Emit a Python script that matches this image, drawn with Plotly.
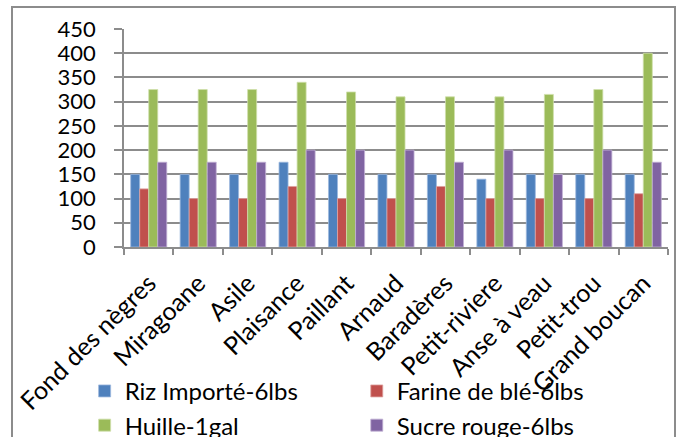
import plotly.graph_objects as go

# Communes (axe des x) et prix par produit
communes = [
    "Fond des nègres", "Miragoane", "Asile", "Plaisance", "Paillant", "Arnaud",
    "Baradères", "Petit-riviere", "Anse à veau", "Petit-trou", "Grand boucan",
]
riz = [150, 150, 150, 175, 150, 150, 150, 140, 150, 150, 150]
farine = [120, 100, 100, 125, 100, 100, 125, 100, 100, 100, 110]
huille = [325, 325, 325, 340, 320, 310, 310, 310, 315, 325, 400]
sucre = [175, 175, 175, 200, 200, 200, 175, 200, 150, 200, 175]

# (nom, valeurs, couleur, bord, legende) -- deux colonnes de legende
SERIES = [
    ("Riz Importé-6lbs", riz, "#4F81BD", "#9DB9DE", "legend"),
    ("Farine de blé-6lbs", farine, "#C0504D", "#E0A3A1", "legend2"),
    ("Huille-1gal", huille, "#9BBB59", "#CFE0AB", "legend"),
    ("Sucre rouge-6lbs", sucre, "#8064A2", "#C1B1D5", "legend2"),
]

FONT = "Lato, 'Open Sans', sans-serif"
GRID = "#8c8c8c"

fig = go.Figure()
for name, values, color, edge, legend in SERIES:
    fig.add_trace(go.Bar(
        x=communes,
        y=values,
        name=name,
        legend=legend,
        marker={"color": color, "line": {"color": edge, "width": 0.8}},
    ))


def _legend(x: float) -> dict:
    return {
        "orientation": "v",
        "xref": "container",
        "yref": "container",
        "x": x,
        "y": 0.156,
        "xanchor": "left",
        "yanchor": "top",
        "font": {"size": 24, "family": FONT},
        "traceorder": "normal",
        "bgcolor": "rgba(0,0,0,0)",
        "tracegroupgap": 0,
    }


fig.update_layout(
    width=677,
    height=437,
    barmode="group",
    bargap=0.27,
    bargroupgap=0,
    margin={"l": 124, "r": 9, "t": 29, "b": 190, "autoexpand": False},
    paper_bgcolor="white",
    plot_bgcolor="white",
    font={"family": FONT, "color": "black", "size": 22},
    legend=_legend(0.125),
    legend2=_legend(0.527),
    xaxis={
        "automargin": False,
        "tickangle": -45,
        "tickson": "boundaries",
        "ticks": "outside",
        "ticklen": 6,
        "tickcolor": GRID,
        "tickwidth": 1.5,
        "showline": True,
        "linecolor": GRID,
        "linewidth": 1.5,
        "showgrid": False,
        "tickfont": {"size": 25},
        "ticklabelstandoff": 10,
    },
    yaxis={
        "automargin": False,
        "range": [0, 450],
        "dtick": 50,
        "ticks": "outside",
        "ticklen": 8,
        "tickcolor": GRID,
        "tickwidth": 1.5,
        "showline": True,
        "linecolor": GRID,
        "linewidth": 1.5,
        "gridcolor": GRID,
        "gridwidth": 1.5,
        "zeroline": False,
        "tickfont": {"size": 22},
        "ticklabelstandoff": 14,
    },
    shapes=[{
        "type": "rect", "xref": "paper", "yref": "paper",
        "x0": (12 - 124) / 544, "x1": (675 - 124) / 544,
        "y0": -(445 - 247) / 218, "y1": (247 - 7) / 218,
        "line": {"color": GRID, "width": 2},
        "layer": "below",
    }],
)

fig.write_html(
    "out.html",
    config={"displayModeBar": False},
    post_script="document.body.style.margin='0';",
)
